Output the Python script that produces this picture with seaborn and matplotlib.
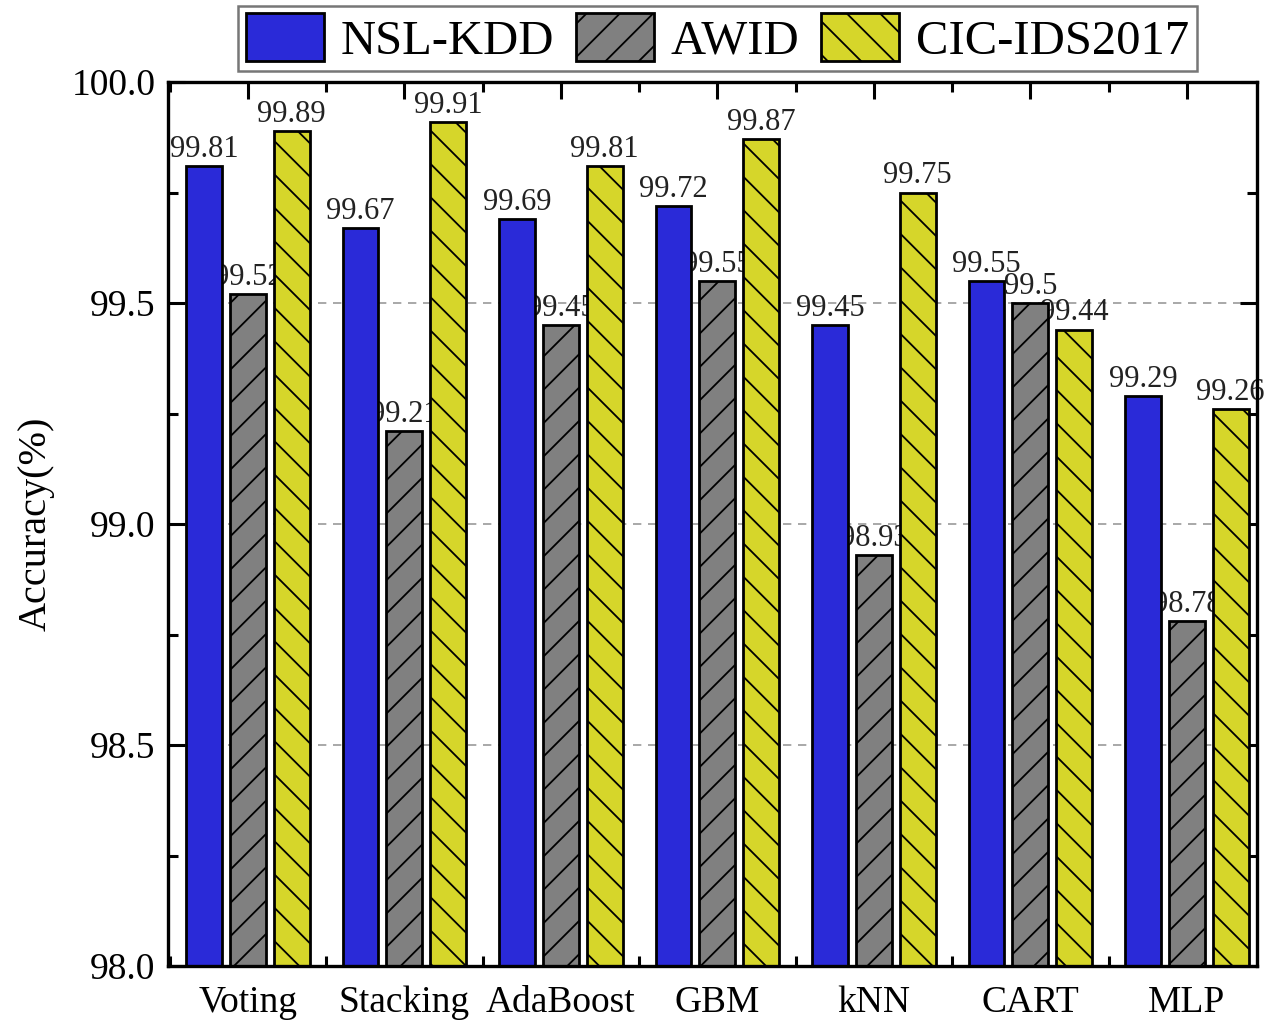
import pandas as pd
import matplotlib
matplotlib.use("Agg")
import matplotlib.pyplot as plt
from matplotlib.patches import Patch
from matplotlib.ticker import MultipleLocator, FixedLocator
import seaborn as sns

# Data
models = ["Voting", "Stacking", "AdaBoost", "GBM", "kNN", "CART", "MLP"]
datasets = ["NSL-KDD", "AWID", "CIC-IDS2017"]
nsl_kdd = [99.81, 99.67, 99.69, 99.72, 99.45, 99.55, 99.29]
awid = [99.52, 99.21, 99.45, 99.55, 98.93, 99.50, 98.78]
cic_ids = [99.89, 99.91, 99.81, 99.87, 99.75, 99.44, 99.26]

colors = ["#2a2ad8", "#808080", "#d6d62a"]
hatches = ["", "/", "\\"]

df = pd.DataFrame({
    "model": models * 3,
    "acc": nsl_kdd + awid + cic_ids,
    "dataset": [d for d in datasets for _ in models],
})

sns.set_style("ticks", {"axes.edgecolor": "black", "text.color": "black",
                        "xtick.color": "black", "ytick.color": "black",
                        "axes.labelcolor": "black"})
plt.rcParams["font.family"] = ["Liberation Serif", "DejaVu Serif"]
plt.rcParams["hatch.linewidth"] = 1.3
plt.rcParams["hatch.color"] = "black"

fig = plt.figure(figsize=(12.71, 10.28), dpi=100)
ax = fig.add_axes([0.1322, 0.0603, 0.857, 0.8599])

sns.barplot(
    data=df, x="model", y="acc", hue="dataset", hue_order=datasets,
    palette=colors, saturation=1, width=0.84, gap=0.18, edgecolor="black",
    linewidth=2, legend=False, ax=ax, zorder=2,
)

# hatches + value labels (labels sit behind the bars like in the original)
for container, h in zip(ax.containers, hatches):
    for bar in container:
        bar.set_hatch(h)
        bar.set_zorder(2)
        x = bar.get_x() + bar.get_width() / 2
        y = bar.get_height()
        ax.annotate(f"{y:g}", (x, y), xytext=(0, 1.5), textcoords="offset points",
                    ha="center", va="bottom", fontsize=22, color="#222222", zorder=1)

ax.set_ylim(98.0, 100.0)
ax.set_xlim(-0.51, 6.45)
ax.yaxis.set_minor_locator(MultipleLocator(0.25))
ax.xaxis.set_minor_locator(FixedLocator([i + 0.5 for i in range(-1, 7)]))
ax.set_yticks([98.0, 98.5, 99.0, 99.5, 100.0])
ax.set_yticklabels(["98.0", "98.5", "99.0", "99.5", "100.0"])

for yv in [98.5, 99.0, 99.5]:
    ax.axhline(yv, color="#999999", linestyle=(0, (5, 4)), linewidth=1.2, zorder=0)

ax.tick_params(axis="both", which="both", direction="in", top=True, right=True,
               width=2.2, color="black")
ax.tick_params(axis="both", which="major", length=12, labelsize=27, pad=9)
ax.tick_params(axis="x", which="major", pad=14)
ax.tick_params(axis="both", which="minor", length=7)
for s in ax.spines.values():
    s.set_linewidth(2.4)
    s.set_color("black")

ax.set_xlabel("")
ax.set_ylabel("Accuracy(%)", fontsize=29, labelpad=12)

handles = [Patch(facecolor=c, edgecolor="black", hatch=h, linewidth=2)
           for c, h in zip(colors, hatches)]
leg = fig.legend(handles, datasets, loc="upper center", bbox_to_anchor=(0.5645, 0.999),
                 ncol=3, fontsize=35, frameon=True, fancybox=False,
                 handlelength=1.6, handleheight=1.15, handletextpad=0.35,
                 columnspacing=0.45, borderpad=0.15, borderaxespad=0.1)
leg.get_frame().set_edgecolor("#555555")
leg.get_frame().set_linewidth(1.8)

fig.savefig("out.png", dpi=100)
